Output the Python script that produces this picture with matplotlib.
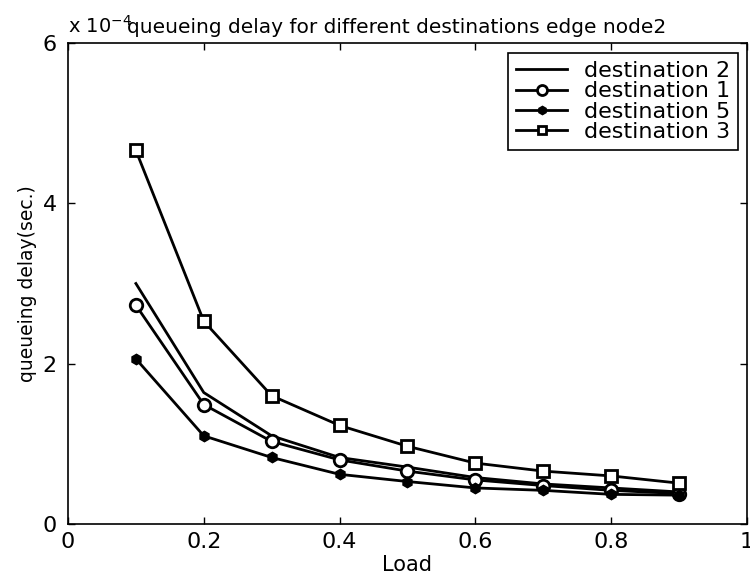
'''
Queueing delay for different destinations, edge node 2
'''

import matplotlib
matplotlib.use('Agg')
import matplotlib.pyplot as plt

plt.rcParams['font.family'] = ['DejaVu Sans']

load = [0.1, 0.2, 0.3, 0.4, 0.5, 0.6, 0.7, 0.8, 0.9]
# delays in units of 1e-4 sec
dest2 = [3.00, 1.64, 1.10, 0.83, 0.71, 0.58, 0.50, 0.45, 0.40]
dest1 = [2.73, 1.49, 1.03, 0.80, 0.66, 0.55, 0.48, 0.42, 0.38]
dest5 = [2.06, 1.10, 0.83, 0.62, 0.53, 0.45, 0.42, 0.37, 0.36]
dest3 = [4.66, 2.53, 1.60, 1.23, 0.97, 0.76, 0.66, 0.60, 0.51]


def plot_delays():
    '''
    Draw the four destination curves in MATLAB style
    '''
    fig = plt.figure(figsize=(7.5, 5.87), dpi=100)
    ax = fig.add_axes([0.0907, 0.1073, 0.905, 0.8194])

    ax.plot(load, dest2, color='black', lw=2, label='destination 2')
    ax.plot(load, dest1, color='black', lw=2, marker='o', ms=9,
            mfc='white', mew=2, label='destination 1')
    ax.plot(load, dest5, color='black', lw=2, marker='h', ms=7.5,
            label='destination 5')
    ax.plot(load, dest3, color='black', lw=2, marker='s', ms=8,
            mfc='white', mew=2, label='destination 3')

    ax.set_xlim(0, 1)
    ax.set_ylim(0, 6)
    ax.set_xticks([0, 0.2, 0.4, 0.6, 0.8, 1])
    ax.set_xticklabels(['0', '0.2', '0.4', '0.6', '0.8', '1'])
    ax.set_yticks([0, 2, 4, 6])
    ax.tick_params(direction='in', top=True, right=True, labelsize=16,
                   length=5, width=1)
    ax.tick_params(axis='x', pad=6)
    ax.tick_params(axis='y', pad=8)
    for spine in ax.spines.values():
        spine.set_linewidth(1.2)

    ax.set_xlabel('Load', fontsize=15, labelpad=2)
    ax.set_ylabel('queueing delay(sec.)', fontsize=13.5, labelpad=4)

    fig.text(68 / 750, 1 - 33 / 587, 'x 10$^{-4}$', fontsize=14,
             va='baseline')
    fig.text(127 / 750, 1 - 33 / 587,
             'queueing delay for different destinations edge node2',
             fontsize=14.5, va='baseline')

    leg = ax.legend(loc='upper right', fontsize=16, fancybox=False,
                    edgecolor='black', framealpha=1, handlelength=2.3,
                    handletextpad=0.75, borderpad=0.35, labelspacing=0.02,
                    markerscale=0.8, borderaxespad=0,
                    bbox_to_anchor=(0.987, 0.979))
    leg.get_frame().set_linewidth(1.2)

    fig.savefig('out.png', dpi=100)


plot_delays()
